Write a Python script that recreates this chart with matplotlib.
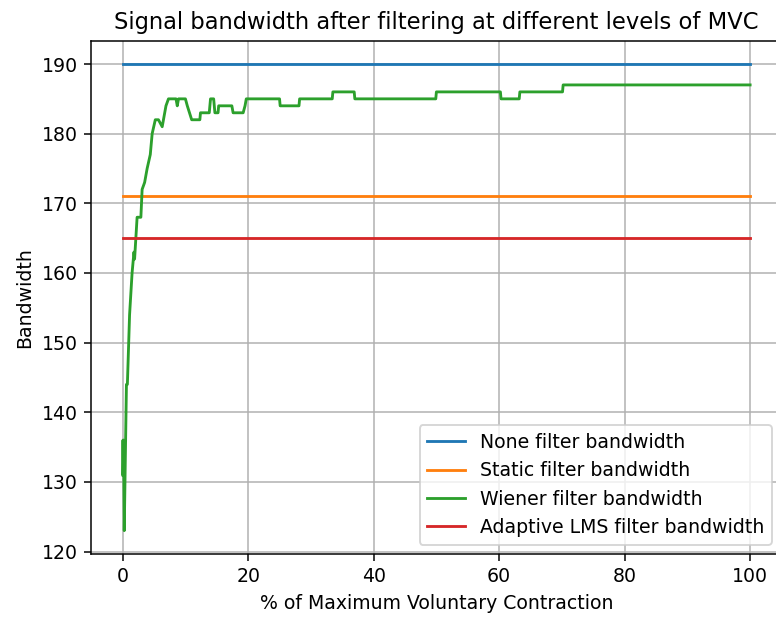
import matplotlib
matplotlib.use("Agg")
import matplotlib.pyplot as plt

mvc_range = [0, 100]
none_bw = [190, 190]
static_bw = [171, 171]
lms_bw = [165, 165]

wiener_x = [0, 0.05, 0.1, 0.15, 0.25, 0.6, 0.75, 1.1, 1.5, 1.8, 1.9, 2.3, 2.9, 3.1, 3.5,
            3.9, 4.4, 4.7, 5.2, 5.7, 6.3, 6.5, 6.9, 7.3, 8.5, 8.7, 8.9, 10.0, 10.3, 11.0,
            12.3, 12.4, 13.8, 14.0, 14.5, 14.7, 15.2, 15.3, 17.4, 17.6, 19.2, 19.5, 19.7,
            25.0, 25.1, 28.1, 28.2, 33.4, 33.5, 36.9, 37.0, 49.9, 50.0, 60.2, 60.3, 63.2,
            63.3, 70.1, 70.2, 100]
wiener_y = [131, 136, 131, 136, 123, 144, 144, 154, 160, 163, 162, 168, 168, 172, 173,
            175, 177, 180, 182, 182, 181, 182, 184, 185, 185, 184, 185, 185, 184, 182,
            182, 183, 183, 185, 185, 183, 183, 184, 184, 183, 183, 184, 185,
            185, 184, 184, 185, 185, 186, 186, 185, 185, 186, 186, 185, 185,
            186, 186, 187, 187]

DPI = 136
fig = plt.figure(figsize=(776 / DPI, 617 / DPI), dpi=DPI)
ax = fig.add_axes([91.3 / 776, 1 - 554 / 617, 690.2 / 776, (554 - 40.7) / 617])

ax.plot(mvc_range, none_bw, label="None filter bandwidth")
ax.plot(mvc_range, static_bw, label="Static filter bandwidth")
ax.plot(wiener_x, wiener_y, label="Wiener filter bandwidth")
ax.plot(mvc_range, lms_bw, label="Adaptive LMS filter bandwidth")

ax.set_title("Signal bandwidth after filtering at different levels of MVC")
ax.set_xlabel("% of Maximum Voluntary Contraction")
ax.set_ylabel("Bandwidth")
ax.grid(True)
ax.legend(loc="lower right")

fig.savefig("out.png", dpi=DPI)
